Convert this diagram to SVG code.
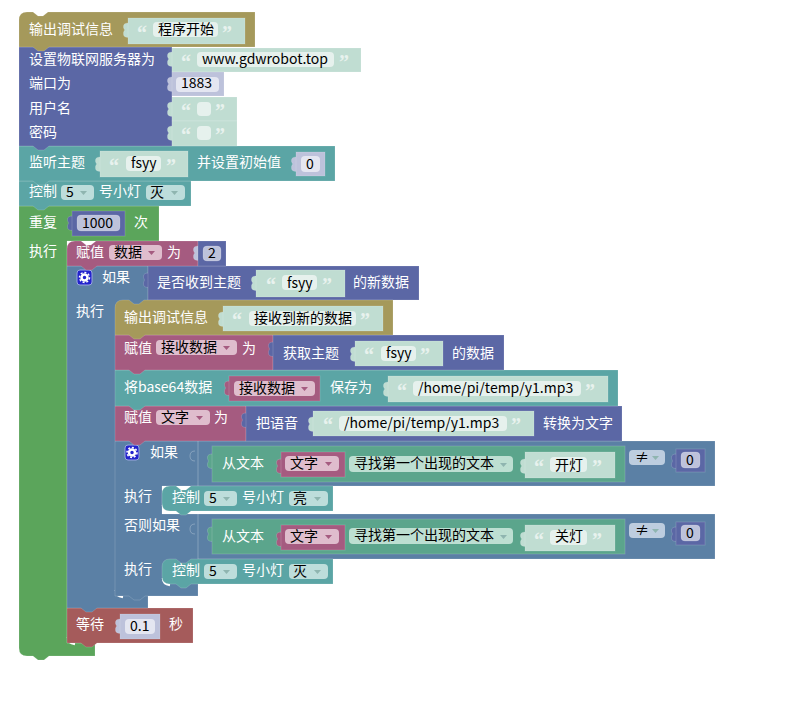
<svg xmlns="http://www.w3.org/2000/svg" width="795" height="709" viewBox="0 0 795 709">
<style>
text{font-family:"Noto Sans CJK SC","Noto Sans",sans-serif;font-size:14px}
.t{fill:#fff}.b{fill:#000}
.q{font-family:"Liberation Serif",serif;font-size:20px;font-weight:bold;fill:#e8f2ee;transform:translateY(2px)}
.yl{fill:#a5995b}.pu{fill:#5b67a5}.te{fill:#5ba5a5}.gr{fill:#5ba55b}.ma{fill:#a55b80}.bl{fill:#5b80a5}.re{fill:#a55b5b}.tg{fill:#5ba58c}
.s{fill:#c0ddd2}.n{fill:#bdc2db}
.yl,.pu,.te,.gr,.ma,.bl,.re,.tg,.s,.n{stroke:#fff;stroke-opacity:.15;stroke-width:1}
.fs{fill:#e6f1ed}.fn{fill:#e4e6f1}.dt{fill:#bddddb}.dm{fill:#dfbdcd}.dg{fill:#bddfd2}.db{fill:#bdcddf}
.ar{fill:#8fb5b0;stroke:none}
.hl{fill:none;stroke:#fff;stroke-width:2.5}
.sock{fill:none;stroke:#fff;stroke-opacity:.25}
.gear{fill:none;stroke:#fff;stroke-width:2.5}
.teeth{fill:none;stroke:#fff;stroke-width:1.5;stroke-dasharray:2 1.800}
</style>
<defs>
<path id="p" d="M0.5 0c-3 0-5 1-5 3v1.5c0 1 1 1.500 1 2.500s-1 1.500-1 2.500v2c0 2 2 3 5 3z"/>
<path id="a" d="M0 0h7l-3.500 4z"/>
</defs>
<g id="connectors"></g>

<g id="repeat"><path class="gr" d="M19 206H159V241H67V643H95V656H49l-5 4h-6l-5-4H27Q19 656 19 648Z"/>
<text class="t" x="29" y="227">重复</text>
<use href="#p" x="72" y="216" class="pu"/><rect class="pu" x="72" y="211" width="53" height="25"/><rect class="n" x="77" y="215" width="43" height="16" rx="4"/><text class="b" x="82" y="228">1000</text>
<text class="t" x="134" y="227">次</text><text class="t" x="29" y="256">执行</text></g>

<g id="wait"><path class="hl" d="M68 637q0 6 7 7"/><path class="re" d="M67 608H193V643H97l-5 4h-6l-5-4H67Z"/>
<text class="t" x="76" y="629">等待</text>
<use href="#p" x="120" y="619" class="n"/><rect class="n" x="120" y="614" width="40" height="25"/><rect class="fn" x="125" y="619" width="30" height="15" rx="4"/><text class="b" x="130" y="631">0.1</text>
<text class="t" x="169" y="629">秒</text></g>

<g id="if-received"><path class="bl" d="M67 266H148V608H97l-5 4h-6l-5-4H67Z"/>
<rect x="77" y="270" width="15" height="15" rx="3" fill="#2222cc" stroke="#9aa5e0"/><circle class="gear" cx="84.500" cy="277.500" r="3"/><circle class="teeth" cx="84.500" cy="277.500" r="5"/>
<text class="t" x="102" y="282">如果</text><text class="t" x="76" y="316">执行</text>
<use href="#p" x="148" y="273" class="pu"/><rect class="pu" x="148" y="266" width="271" height="34"/>
<text class="t" x="157" y="287">是否收到主题</text>
<use href="#p" x="256" y="276" class="s"/><rect class="s" x="256" y="270" width="89" height="27"/><text class="q" x="266" y="290">“</text><rect class="fs" x="282" y="275" width="35" height="15" rx="4"/><text class="b" x="287" y="288">fsyy</text><text class="q" x="322" y="290">”</text>
<text class="t" x="353" y="287">的新数据</text></g>

<g id="assign-data"><path class="ma" d="M67 249Q67 241 75 241H81l5 4h5l5-4H198V266H97l-5 4h-6l-5-4H67Z"/>
<text class="t" x="76" y="257">赋值</text><rect class="dm" x="109" y="245" width="53" height="15" rx="4"/><text class="b" x="114" y="257">数据</text><use href="#a" x="148" y="251" style="fill:#a55b80"/>
<text class="t" x="167" y="257">为</text>
<use href="#p" x="198" y="246" class="n"/><rect class="n" x="198" y="241" width="28" height="25" style="fill:#5b67a5"/><rect class="n" x="203" y="246" width="18" height="15" rx="4"/><text class="b" x="208" y="258">2</text></g>

<g id="if-text"><path class="hl" d="M116 590q0 6 7 7"/><path class="bl" d="M115 441H715V486H162V514H715V559H198V596H145l-5 4h-6l-5-4H115Z"/>
<rect x="125" y="445" width="14" height="15" rx="3" fill="#2222cc" stroke="#9aa5e0"/><circle class="gear" cx="132" cy="452.500" r="3"/><circle class="teeth" cx="132" cy="452.500" r="5"/>
<text class="t" x="150" y="457">如果</text><text class="t" x="124" y="501">执行</text><text class="t" x="124" y="530">否则如果</text><text class="t" x="124" y="574">执行</text>
<path class="sock" d="M198 441V486M198 514V559M195 451q-5 0-5 5t5 5M195 524q-5 0-5 5t5 5"/></g>

<g id="find-open">
<use href="#p" x="212" y="454" class="tg"/><rect class="tg" x="212" y="446" width="413" height="36"/>
<text class="t" x="222" y="468">从文本</text>
<use href="#p" x="281" y="459" class="ma"/><rect class="ma" x="281" y="452" width="64" height="25"/><rect class="dm" x="285" y="456" width="54" height="15" rx="4"/><text class="b" x="290" y="468">文字</text><use href="#a" x="325" y="462" style="fill:#a55b80"/>
<rect class="dg" x="349" y="456" width="164" height="16" rx="4"/><text class="b" x="354" y="468">寻找第一个出现的文本</text><use href="#a" x="500" y="463" class="ar"/>
<use href="#p" x="525" y="459" class="s"/><rect class="s" x="525" y="452" width="90" height="26"/><text class="q" x="534" y="472">“</text><rect class="fs" x="550" y="457" width="37" height="15" rx="4"/><text class="b" x="555" y="470">开灯</text><text class="q" x="592" y="472">”</text>
<rect class="db" x="629" y="450" width="36" height="15" rx="4"/><text class="b" x="635" y="462">≠</text><use href="#a" x="652" y="456" class="ar"/>
<use href="#p" x="676" y="454" class="pu"/><rect class="pu" x="676" y="449" width="29" height="23"/><rect class="n" x="681" y="452" width="19" height="16" rx="4"/><text class="b" x="686" y="465">0</text></g>

<g id="find-close">
<use href="#p" x="212" y="527" class="tg"/><rect class="tg" x="212" y="519" width="413" height="35"/>
<text class="t" x="222" y="541">从文本</text>
<use href="#p" x="281" y="532" class="ma"/><rect class="ma" x="281" y="525" width="64" height="25"/><rect class="dm" x="285" y="529" width="54" height="15" rx="4"/><text class="b" x="290" y="541">文字</text><use href="#a" x="325" y="535" style="fill:#a55b80"/>
<rect class="dg" x="349" y="528" width="164" height="16" rx="4"/><text class="b" x="354" y="540">寻找第一个出现的文本</text><use href="#a" x="500" y="535" class="ar"/>
<use href="#p" x="525" y="532" class="s"/><rect class="s" x="525" y="525" width="90" height="26"/><text class="q" x="534" y="545">“</text><rect class="fs" x="550" y="530" width="37" height="15" rx="4"/><text class="b" x="555" y="541">关灯</text><text class="q" x="592" y="545">”</text>
<rect class="db" x="629" y="523" width="36" height="15" rx="4"/><text class="b" x="635" y="535">≠</text><use href="#a" x="652" y="529" class="ar"/>
<use href="#p" x="676" y="527" class="pu"/><rect class="pu" x="676" y="522" width="29" height="23"/><rect class="n" x="681" y="525" width="19" height="16" rx="4"/><text class="b" x="686" y="538">0</text></g>

<g id="light-on"><path class="hl" d="M163 505q0 6 7 7"/><path class="te" d="M162 494Q162 486 170 486H176l5 4h5l5-4H333V511H191l-5 4h-5l-5-4H170Q162 511 162 503Z"/>
<text class="t" x="172" y="502">控制</text><rect class="dt" x="204" y="491" width="33" height="15" rx="4"/><text class="b" x="209" y="503">5</text><use href="#a" x="223" y="497" class="ar"/>
<text class="t" x="242" y="502">号小灯</text><rect class="dt" x="289" y="491" width="39" height="15" rx="4"/><text class="b" x="293" y="503">亮</text><use href="#a" x="314" y="497" class="ar"/></g>

<g id="light-off-2"><path class="hl" d="M163 578q0 6 7 7"/><path class="te" d="M162 567Q162 559 170 559H176l5 4h5l5-4H333V584H191l-5 4h-5l-5-4H170Q162 584 162 576Z"/>
<text class="t" x="172" y="575">控制</text><rect class="dt" x="204" y="564" width="33" height="15" rx="4"/><text class="b" x="209" y="576">5</text><use href="#a" x="223" y="570" class="ar"/>
<text class="t" x="242" y="575">号小灯</text><rect class="dt" x="289" y="564" width="39" height="15" rx="4"/><text class="b" x="293" y="576">灭</text><use href="#a" x="314" y="570" class="ar"/></g>

<g id="assign-text"><path class="ma" d="M115 406H246V441H145l-5 4h-6l-5-4H115Z"/>
<text class="t" x="124" y="422">赋值</text><rect class="dm" x="156" y="410" width="54" height="15" rx="4"/><text class="b" x="161" y="422">文字</text><use href="#a" x="196" y="416" style="fill:#a55b80"/><text class="t" x="214" y="422">为</text>
<use href="#p" x="246" y="413" class="pu"/><rect class="pu" x="246" y="406" width="376" height="35"/><text class="t" x="256" y="428">把语音</text>
<use href="#p" x="313" y="417" class="s"/><rect class="s" x="313" y="411" width="221" height="25"/><text class="q" x="323" y="430">“</text><rect class="fs" x="339" y="416" width="168" height="15" rx="4"/><text class="b" x="344" y="428">/home/pi/temp/y1.mp3</text><text class="q" x="511" y="430">”</text>
<text class="t" x="543" y="428">转换为文字</text></g>

<g id="save-base64"><path class="te" d="M115 370H618V406H145l-5 4h-6l-5-4H115Z"/>
<text class="t" x="124" y="392">将base64数据</text>
<use href="#p" x="229" y="381" class="ma"/><rect class="ma" x="229" y="376" width="91" height="25"/><rect class="dm" x="234" y="381" width="81" height="15" rx="4"/><text class="b" x="239" y="393">接收数据</text><use href="#a" x="301" y="387" style="fill:#a55b80"/>
<text class="t" x="330" y="392">保存为</text>
<use href="#p" x="388" y="382" class="s"/><rect class="s" x="388" y="376" width="220" height="26"/><text class="q" x="397" y="396">“</text><rect class="fs" x="413" y="381" width="168" height="15" rx="4"/><text class="b" x="418" y="393">/home/pi/temp/y1.mp3</text><text class="q" x="585" y="396">”</text></g>

<g id="assign-received"><path class="ma" d="M115 335H273V370H145l-5 4h-6l-5-4H115Z"/>
<text class="t" x="124" y="353">赋值</text><rect class="dm" x="156" y="340" width="81" height="15" rx="4"/><text class="b" x="161" y="352">接收数据</text><use href="#a" x="223" y="346" style="fill:#a55b80"/><text class="t" x="242" y="353">为</text>
<use href="#p" x="273" y="342" class="pu"/><rect class="pu" x="273" y="335" width="231" height="35"/><text class="t" x="283" y="358">获取主题</text>
<use href="#p" x="355" y="347" class="s"/><rect class="s" x="355" y="341" width="88" height="25"/><text class="q" x="364" y="360">“</text><rect class="fs" x="381" y="346" width="35" height="15" rx="4"/><text class="b" x="386" y="358">fsyy</text><text class="q" x="420" y="360">”</text>
<text class="t" x="452" y="358">的数据</text></g>

<g id="debug-received"><path class="yl" d="M115 308Q115 300 123 300H129l5 4h5l5-4H393V335H145l-5 4h-6l-5-4H115Z"/>
<text class="t" x="124" y="322">输出调试信息</text>
<use href="#p" x="223" y="312" class="s"/><rect class="s" x="223" y="306" width="160" height="25"/><text class="q" x="232" y="325">“</text><rect class="fs" x="249" y="311" width="107" height="15" rx="4"/><text class="b" x="254" y="323">接收到新的数据</text><text class="q" x="360" y="325">”</text></g>

<g id="light-off-1"><path class="te" d="M19 181H191V206H49l-5 4h-6l-5-4H19Z"/>
<text class="t" x="29" y="196">控制</text><rect class="dt" x="61" y="185" width="33" height="15" rx="4"/><text class="b" x="66" y="197">5</text><use href="#a" x="80" y="191" class="ar"/>
<text class="t" x="99" y="196">号小灯</text><rect class="dt" x="146" y="185" width="39" height="15" rx="4"/><text class="b" x="150" y="197">灭</text><use href="#a" x="171" y="191" class="ar"/></g>

<g id="subscribe"><path class="te" d="M19 146H335V181H49l-5 4h-6l-5-4H19Z"/>
<text class="t" x="29" y="167">监听主题</text>
<use href="#p" x="100" y="157" class="s"/><rect class="s" x="100" y="151" width="88" height="26"/><text class="q" x="109" y="171">“</text><rect class="fs" x="126" y="156" width="35" height="15" rx="4"/><text class="b" x="131" y="168">fsyy</text><text class="q" x="166" y="171">”</text>
<text class="t" x="197" y="167">并设置初始值</text>
<use href="#p" x="296" y="157" class="n"/><rect class="n" x="296" y="152" width="29" height="24"/><rect class="fn" x="301" y="156" width="19" height="16" rx="4"/><text class="b" x="306" y="169">0</text></g>

<g id="mqtt-server"><path class="pu" d="M19 47H172V146H49l-5 4h-6l-5-4H19Z"/>
<text class="t" x="29" y="64">设置物联网服务器为</text><text class="t" x="29" y="88">端口为</text><text class="t" x="29" y="113">用户名</text><text class="t" x="29" y="137">密码</text>
<use href="#p" x="172" y="52" class="s"/><rect class="s" x="172" y="48" width="189" height="24"/><text class="q" x="181" y="67">“</text><rect class="fs" x="197" y="52" width="137" height="15" rx="4"/><text class="b" x="202" y="64">www.gdwrobot.top</text><text class="q" x="339" y="67">”</text>
<use href="#p" x="172" y="77" class="n"/><rect class="n" x="172" y="72" width="52" height="24"/><rect class="fn" x="176" y="77" width="43" height="15" rx="4"/><text class="b" x="181" y="88">1883</text>
<use href="#p" x="172" y="102" class="s"/><rect class="s" x="172" y="97" width="65" height="24"/><text class="q" x="181" y="116">“</text><rect class="fs" x="197" y="102" width="14" height="14" rx="4"/><text class="q" x="215" y="116">”</text>
<use href="#p" x="172" y="126" class="s"/><rect class="s" x="172" y="121" width="65" height="25"/><text class="q" x="181" y="140">“</text><rect class="fs" x="197" y="126" width="14" height="14" rx="4"/><text class="q" x="215" y="140">”</text></g>

<g id="debug-start"><path class="yl" d="M19 20Q19 12 27 12H33l5 4h5l5-4H255V47H49l-5 4h-6l-5-4H19Z"/>
<text class="t" x="29" y="34">输出调试信息</text>
<use href="#p" x="128" y="23" class="s"/><rect class="s" x="128" y="18" width="117" height="26"/><text class="q" x="137" y="38">“</text><rect class="fs" x="153" y="22" width="65" height="15" rx="4"/><text class="b" x="158" y="34">程序开始</text><text class="q" x="222" y="38">”</text></g>
</svg>
